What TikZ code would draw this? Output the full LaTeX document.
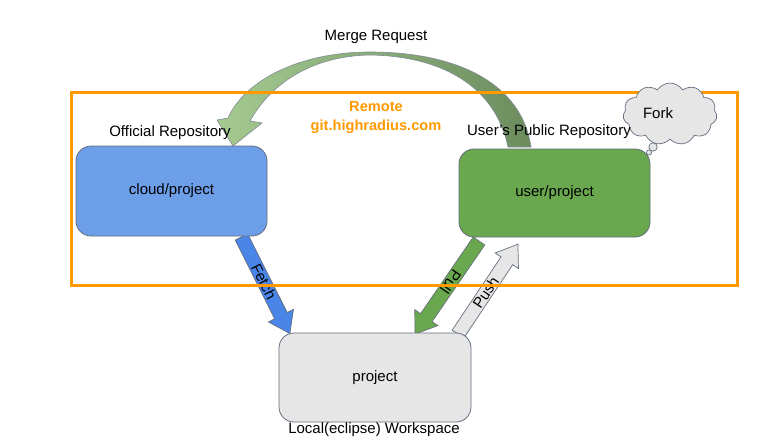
\documentclass[tikz,border=0pt]{standalone}
\usepackage{fontspec}
\setmainfont{Liberation Sans}
\usetikzlibrary{shapes.symbols,calc}
\definecolor{orng}{RGB}{255,153,0}
\definecolor{bluebox}{RGB}{109,158,232}
\definecolor{bluearr}{RGB}{74,134,232}
\definecolor{greenbox}{RGB}{106,168,79}
\definecolor{greybox}{RGB}{230,230,230}
\definecolor{edge}{RGB}{100,110,125}
\definecolor{mergeL}{RGB}{164,202,144}
\definecolor{mergeR}{RGB}{108,140,94}
\newcommand\blockarrow[5]{%
\begin{scope}[shift={(#1)}, rotate=#2]
\draw[draw=edge, line width=0.7pt, fill=#4] (0,-7) -- ({#3-20},-7) -- ({#3-20},-14) -- (#3,0) -- ({#3-20},14) -- ({#3-20},7) -- (0,7) -- cycle;
\node[rotate=#2] at (50,0) {#5};
\end{scope}}
\begin{document}
\begin{tikzpicture}[x=1pt,y=1pt, font=\fontsize{15}{18}\selectfont,
  repo/.style={draw=edge, line width=0.8pt, rounded corners=15pt, inner sep=0pt},
  lbl/.style={inner sep=0pt}]
\useasboundingbox (0,0) rectangle (780,-439);
% merge request arrow
\path[draw=edge!80, line width=0.6pt, left color=mergeL, right color=mergeR]
  (531,-147) .. controls (522,-85) and (460,-52) .. (370,-52)
  .. controls (300,-52) and (245,-80) .. (228,-118)
  -- (217,-120) -- (233,-146) -- (262,-123) -- (250,-121)
  .. controls (270,-85) and (310,-56) .. (370,-55)
  .. controls (440,-56) and (495,-85) .. (508,-147) -- cycle;
% block arrows
\coordinate (fetchT) at (241.5,-237);
\coordinate (pullT) at (479,-241);
\coordinate (pushT) at (458,-334);
\blockarrow{fetchT}{-63.4}{108}{bluearr}{Fetch}
\blockarrow{pullT}{-124.5}{113}{greenbox}{Pull}
\blockarrow{pushT}{56.3}{108}{greybox}{Push}
% boxes
\node[repo, fill=bluebox, minimum width=191pt, minimum height=90pt] (cloud) at (171.5,-191) {cloud/project};
\node[repo, fill=greenbox, minimum width=191pt, minimum height=88pt] (user) at (554.5,-193) {user/project};
\node[repo, fill=greybox, minimum width=192pt, minimum height=89pt] (local) at (375,-377.5) {project};
% remote frame
\node[draw=orng, line width=3pt, minimum width=666pt, minimum height=193pt, inner sep=0pt] (remote) at (404,-188.5) {};
% fork cloud
\node[cloud, cloud puffs=11, cloud puff arc=115, draw=edge, line width=0.7pt, fill=greybox, minimum width=94pt, minimum height=62pt, inner sep=0pt] (fork) at (670,-114) {};
\draw[draw=edge, line width=0.7pt, fill=greybox] (653,-147) circle (4.2);
\draw[draw=edge, line width=0.7pt, fill=greybox] (649,-152.5) circle (2.6);
\node[lbl] (forkt) at (658,-113) {Fork};
% labels
\node[lbl] (mr) at (376,-37) {Merge Request};
\node[lbl] (offl) at (170,-133) {Official Repository};
\node[lbl] (usr) at (549,-132) {User’s Public Repository};
\node[lbl, align=center, text=orng, font=\fontsize{14.6}{19}\selectfont\bfseries] (rem) at (376,-117.5) {Remote\\git.highradius.com};
\node[lbl] (ws) at (374,-430) {Local(eclipse) Workspace};
\end{tikzpicture}
\end{document}
